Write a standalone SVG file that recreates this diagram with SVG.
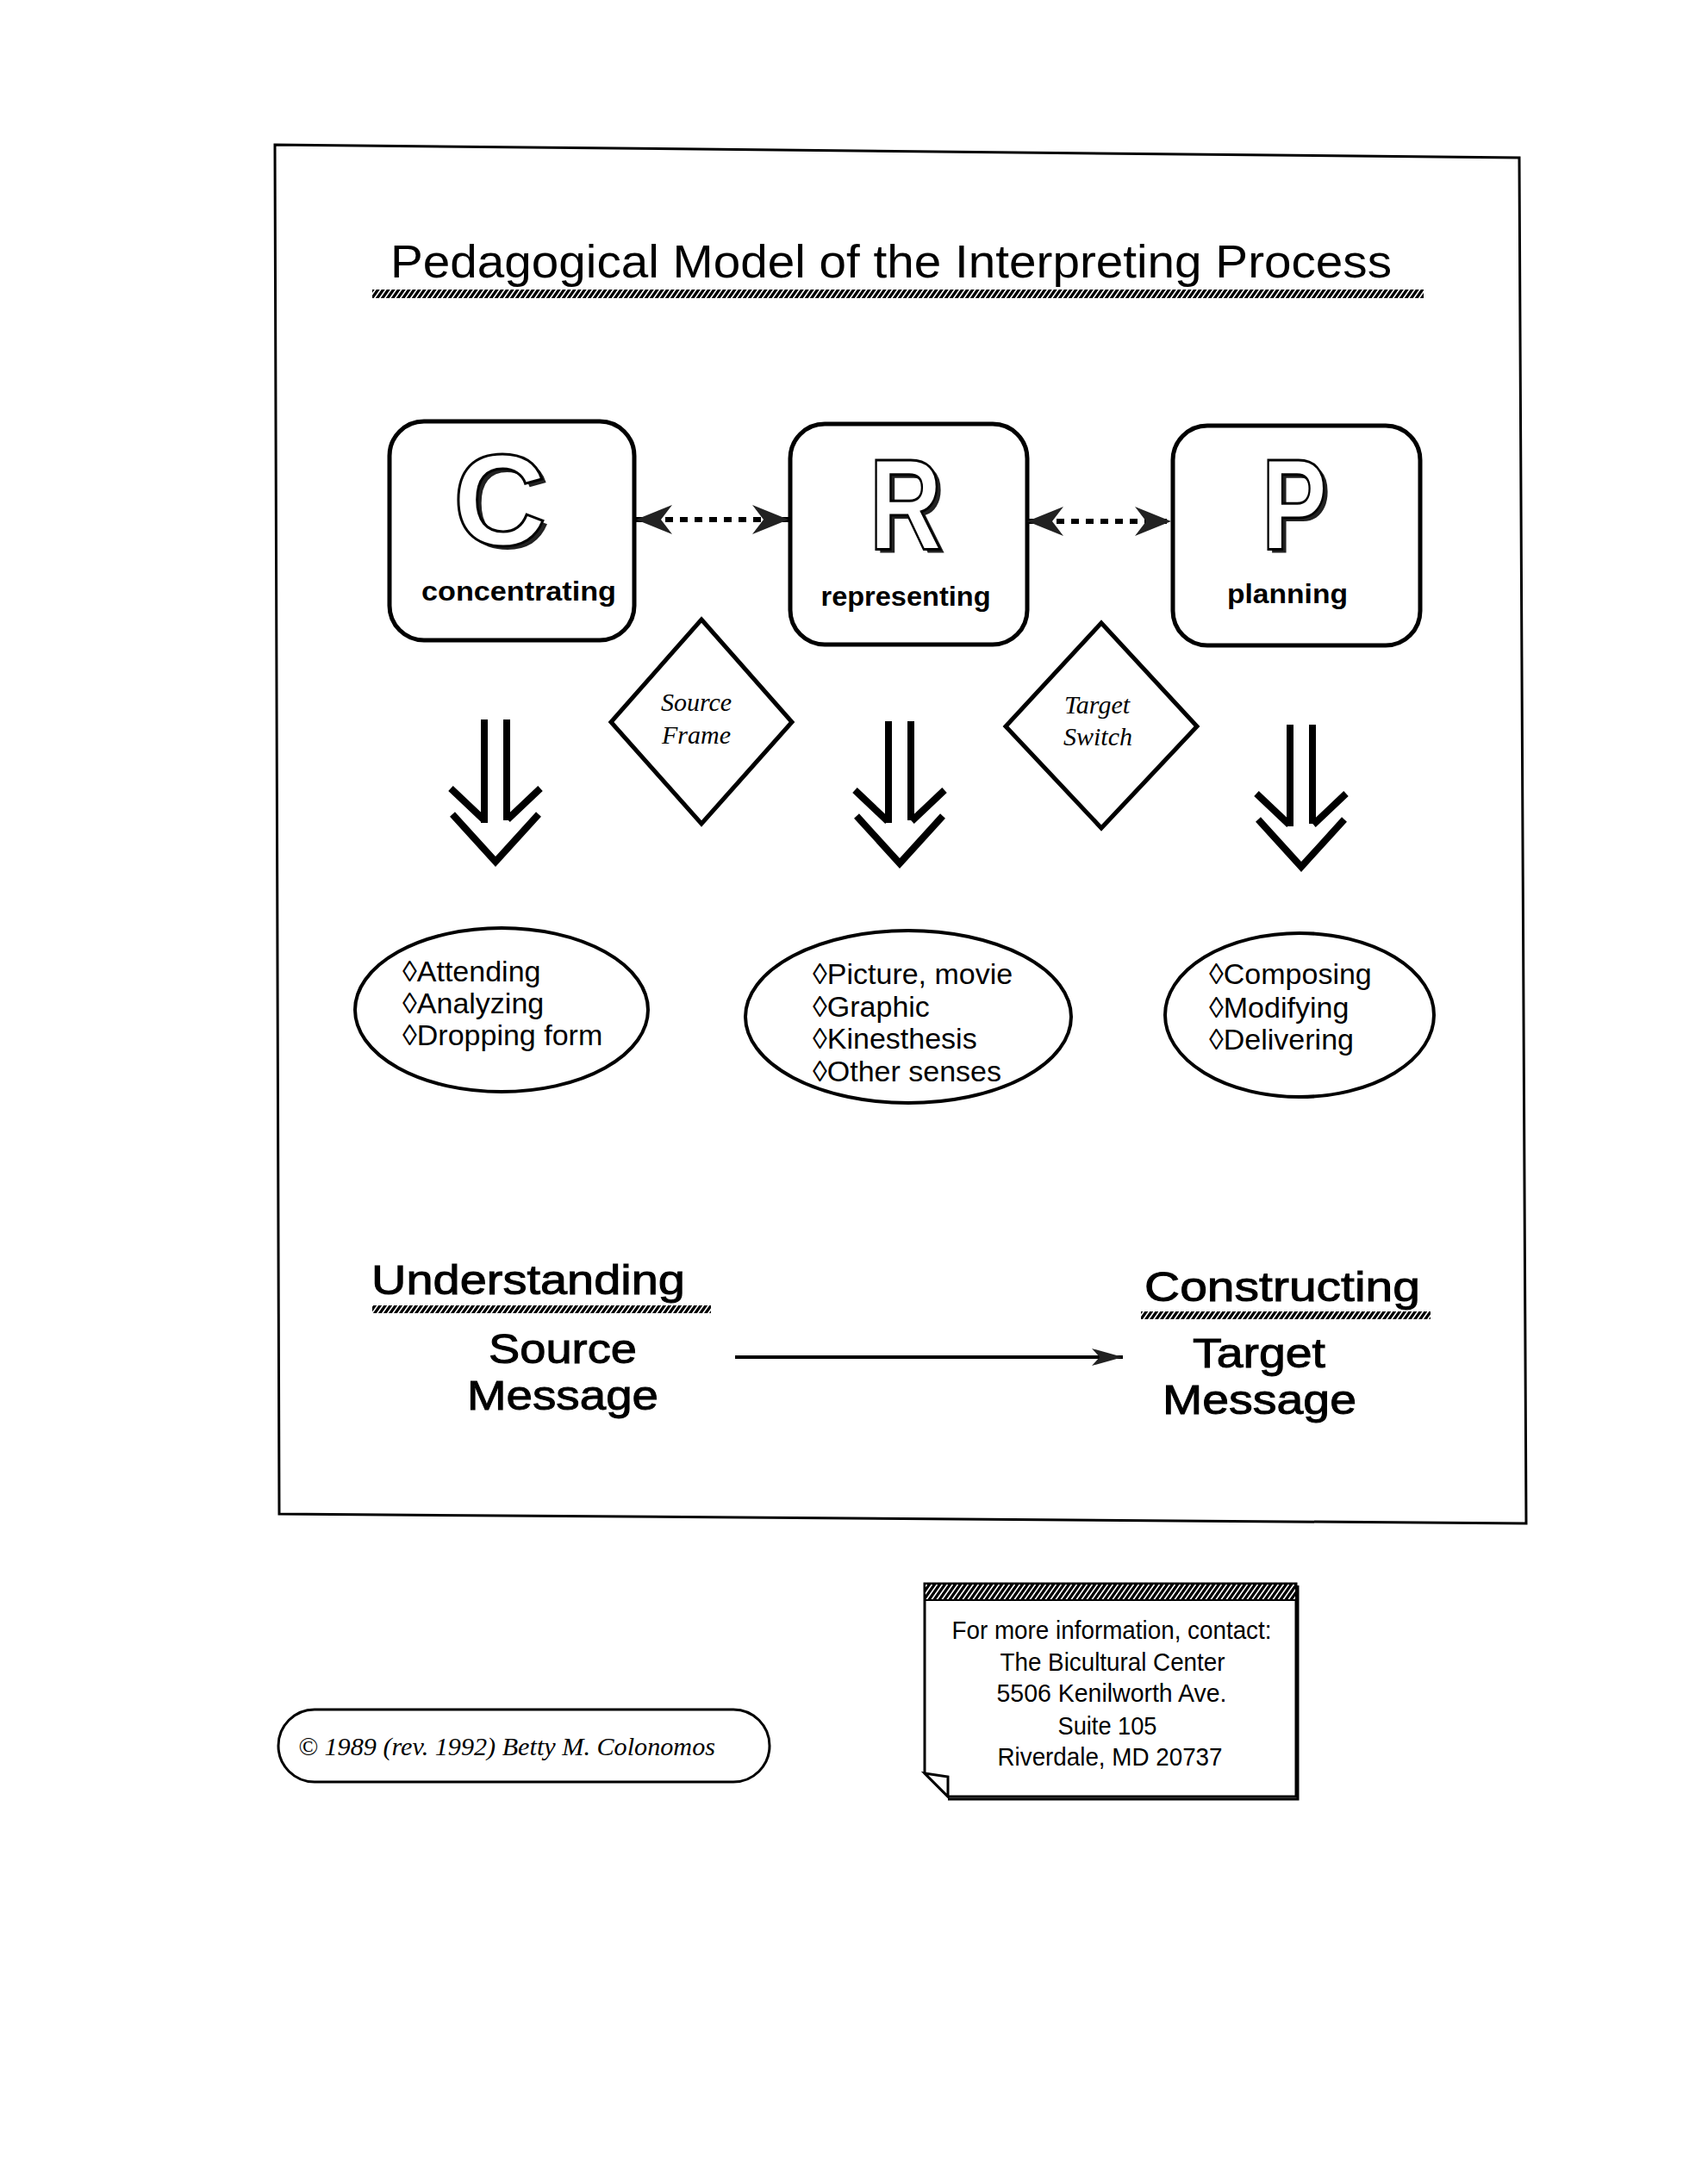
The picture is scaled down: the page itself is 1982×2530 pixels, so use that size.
<svg xmlns="http://www.w3.org/2000/svg" width="1982" height="2530" viewBox="0 0 1982 2530">
<defs>
<style>
.ln{fill:none;stroke:#000;stroke-width:4}
.box{fill:#fff;stroke:#000;stroke-width:5}
.big{font-family:"Liberation Sans",Arial,sans-serif;font-size:150px;font-weight:bold;text-anchor:middle}
.big-sh{fill:#222}
.big-fg{fill:#fff;stroke:#000;stroke-width:3}
.lbl{font-family:"Liberation Sans",Arial,sans-serif;font-size:32px;font-weight:bold;text-anchor:middle}
.dia{font-family:"Liberation Serif","Times New Roman",serif;font-style:italic;font-size:30px;text-anchor:middle}
.item{font-family:"Liberation Sans",Arial,sans-serif;font-size:34px}
.head{font-family:"Liberation Sans",Arial,sans-serif;font-size:49px;stroke:#000;stroke-width:1}
.info{font-family:"Liberation Sans Narrow","Liberation Sans",Arial,sans-serif;font-size:29px;text-anchor:middle}
.copy{font-family:"Liberation Serif","Times New Roman",serif;font-style:italic;font-size:30px}
.dots{fill:none;stroke:#000;stroke-width:6;stroke-dasharray:9 8}
.dn{fill:none;stroke:#000;stroke-width:8}
</style>
<pattern id="hatch" width="6" height="12" patternUnits="userSpaceOnUse" patternTransform="skewX(-35)">
<rect width="6" height="12" fill="#fff"/>
<rect width="4" height="12" fill="#000"/>
</pattern>
<marker id="barb" viewBox="-44 -20 46 40" refX="0" refY="0" markerWidth="46" markerHeight="40" markerUnits="userSpaceOnUse" orient="auto-start-reverse">
<path d="M0,0 L-42,-17 L-29,0 L-42,17 Z" fill="#222"/>
</marker>
<marker id="tip" viewBox="-40 -12 42 24" refX="0" refY="0" markerWidth="42" markerHeight="24" markerUnits="userSpaceOnUse" orient="auto">
<path d="M0,0 L-36,-10 L-27,0 L-36,10 Z" fill="#222"/>
</marker>
</defs>
<rect width="1982" height="2530" fill="#fff"/>

<g id="frame">
<polygon points="319,168 1763,183 1771,1768 324,1757" fill="none" stroke="#000" stroke-width="3"/>
</g>

<g id="title">
<text x="453" y="322" font-family="Liberation Sans, Arial, sans-serif" font-size="54" textLength="1162" lengthAdjust="spacingAndGlyphs">Pedagogical Model of the Interpreting Process</text>
<rect x="432" y="336" width="1220" height="10" fill="url(#hatch)"/>
</g>

<g id="node-c">
<rect class="box" x="452" y="489" width="284" height="254" rx="40"/>
<text class="big big-sh" x="585" y="637">C</text>
<text class="big big-fg" x="580" y="633">C</text>
<text class="lbl" x="602" y="697" textLength="226" lengthAdjust="spacingAndGlyphs">concentrating</text>
</g>

<g id="node-r">
<rect class="box" x="917" y="492" width="275" height="256" rx="40"/>
<g transform="translate(1051,637) scale(0.78,1)">
<text class="big big-sh" x="6" y="4">R</text>
<text class="big big-fg" x="0" y="0">R</text>
</g>
<text class="lbl" x="1051" y="703" textLength="197" lengthAdjust="spacingAndGlyphs">representing</text>
</g>

<g id="node-p">
<rect class="box" x="1361" y="494" width="287" height="255" rx="40"/>
<g transform="translate(1502,637) scale(0.76,1)">
<text class="big big-sh" x="6" y="4">P</text>
<text class="big big-fg" x="0" y="0">P</text>
</g>
<text class="lbl" x="1494" y="700" textLength="140" lengthAdjust="spacingAndGlyphs">planning</text>
</g>

<g id="diamond-source">
<polygon points="814,719 919,838 814,956 709,838" fill="#fff" stroke="#000" stroke-width="5"/>
<text class="dia" x="808" y="825">Source</text>
<text class="dia" x="808" y="863">Frame</text>
</g>

<g id="diamond-target">
<polygon points="1278,723 1389,843 1278,961 1167,843" fill="#fff" stroke="#000" stroke-width="5"/>
<text class="dia" x="1273" y="828">Target</text>
<text class="dia" x="1274" y="865">Switch</text>
</g>

<g id="ellipse-c">
<ellipse class="ln" cx="582" cy="1172" rx="170" ry="95"/>
<text class="item" x="467" y="1139">◊Attending</text>
<text class="item" x="467" y="1176">◊Analyzing</text>
<text class="item" x="467" y="1213">◊Dropping form</text>
</g>

<g id="ellipse-r">
<ellipse class="ln" cx="1054" cy="1180" rx="189" ry="100"/>
<text class="item" x="943" y="1142">◊Picture, movie</text>
<text class="item" x="943" y="1180">◊Graphic</text>
<text class="item" x="943" y="1217">◊Kinesthesis</text>
<text class="item" x="943" y="1255">◊Other senses</text>
</g>

<g id="ellipse-p">
<ellipse class="ln" cx="1508" cy="1178" rx="156" ry="95"/>
<text class="item" x="1403" y="1142">◊Composing</text>
<text class="item" x="1403" y="1181">◊Modifying</text>
<text class="item" x="1403" y="1218">◊Delivering</text>
</g>

<g id="source-message">
<text class="head" x="431" y="1502" textLength="364" lengthAdjust="spacingAndGlyphs">Understanding</text>
<rect x="432" y="1515" width="393" height="9" fill="url(#hatch)"/>
<text class="head" x="567" y="1582" textLength="172" lengthAdjust="spacingAndGlyphs">Source</text>
<text class="head" x="542" y="1636" textLength="222" lengthAdjust="spacingAndGlyphs">Message</text>
</g>

<g id="target-message">
<text class="head" x="1328" y="1510" textLength="320" lengthAdjust="spacingAndGlyphs">Constructing</text>
<rect x="1324" y="1522" width="336" height="9" fill="url(#hatch)"/>
<text class="head" x="1384" y="1587" textLength="154" lengthAdjust="spacingAndGlyphs">Target</text>
<text class="head" x="1349" y="1641" textLength="225" lengthAdjust="spacingAndGlyphs">Message</text>
</g>

<g id="connectors">
<line class="dots" x1="738" y1="603" x2="915" y2="603" marker-start="url(#barb)" marker-end="url(#barb)"/>
<line class="dots" x1="1192" y1="605" x2="1359" y2="605" marker-start="url(#barb)" marker-end="url(#barb)"/>
<g transform="translate(575,0)">
<path class="dn" d="M-13,835 V955 M13,835 V952 M-52,915 L-14,951 M52,915 L14,951 M-50,945 L0,1000 L50,945"/>
</g>
<g transform="translate(1044,0)">
<path class="dn" d="M-13,837 V955 M13,837 V952 M-52,917 L-14,953 M52,917 L14,953 M-50,947 L0,1002 L50,947"/>
</g>
<g transform="translate(1510,4)">
<path class="dn" d="M-13,837 V955 M13,837 V952 M-52,917 L-14,953 M52,917 L14,953 M-50,947 L0,1002 L50,947"/>
</g>
<line x1="853" y1="1575" x2="1303" y2="1575" stroke="#000" stroke-width="4" marker-end="url(#tip)"/>
</g>

<g id="copyright">
<rect x="323" y="1984" width="570" height="84" rx="42" fill="#fff" stroke="#000" stroke-width="3"/>
<text class="copy" x="346" y="2037" textLength="484" lengthAdjust="spacingAndGlyphs">© 1989 (rev. 1992) Betty M. Colonomos</text>
</g>

<g id="info">
<path d="M1073,1838 H1504 V2085 H1100 L1073,2058 Z" fill="#fff" stroke="#000" stroke-width="3"/>
<path d="M1506,1840 V2088 H1100" fill="none" stroke="#000" stroke-width="3"/>
<path d="M1073,2058 L1100,2062 L1100,2085 Z" fill="#fff" stroke="#000" stroke-width="3"/>
<rect x="1073" y="1838" width="431" height="19" fill="url(#hatch)" stroke="#000" stroke-width="2"/>
<text class="info" x="1290" y="1902" textLength="371" lengthAdjust="spacingAndGlyphs">For more information, contact:</text>
<text class="info" x="1291" y="1939" textLength="261" lengthAdjust="spacingAndGlyphs">The Bicultural Center</text>
<text class="info" x="1290" y="1975" textLength="267" lengthAdjust="spacingAndGlyphs">5506 Kenilworth Ave.</text>
<text class="info" x="1285" y="2013" textLength="115" lengthAdjust="spacingAndGlyphs">Suite 105</text>
<text class="info" x="1288" y="2049" textLength="261" lengthAdjust="spacingAndGlyphs">Riverdale, MD 20737</text>
</g>
</svg>
